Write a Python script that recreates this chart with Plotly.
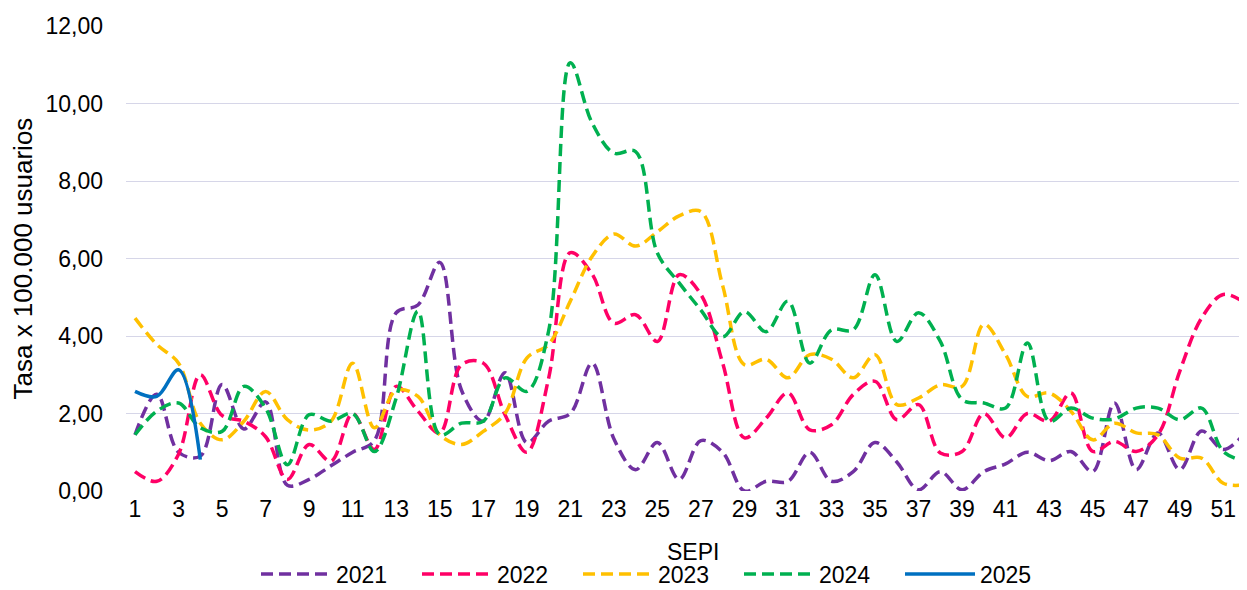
import plotly.graph_objects as go

weeks = list(range(1, 53))
weeks_2025 = [1, 2, 3, 4]

tasa_2021 = [1.45, 2.5, 1.0, 0.9, 2.75, 1.6, 2.3, 0.15, 0.3, 0.65, 1.0, 1.3, 4.6, 4.8, 5.9, 2.6, 1.8, 3.05, 1.25, 1.8,
             2.0, 3.3, 1.35, 0.55, 1.25, 0.3, 1.3, 1.0, 0.0, 0.25, 0.25, 1.0, 0.25, 0.5, 1.25, 0.75, 0.03, 0.5, 0.03, 0.5,
             0.7, 1.0, 0.78, 1.02, 0.5, 2.27, 0.55, 1.5, 0.55, 1.55, 1.07, 1.5]
tasa_2022 = [0.5, 0.25, 0.95, 3.0, 1.95, 1.8, 1.4, 0.3, 1.2, 0.77, 2.0, 1.07, 2.7, 2.06, 1.5, 3.26, 3.3, 1.97, 1.0, 2.9,
             6.15, 5.6, 4.33, 4.55, 3.86, 5.58, 5.07, 3.3, 1.37, 1.88, 2.53, 1.58, 1.71, 2.49, 2.83, 1.84, 2.23, 0.98, 1.02, 2.0,
             1.37, 2.0, 1.8, 2.53, 1.02, 1.28, 1.02, 1.45, 3.09, 4.46, 5.07, 4.85]
tasa_2023 = [4.46, 3.78, 3.3, 1.75, 1.32, 1.8, 2.57, 1.84, 1.57, 1.8, 3.3, 1.63, 2.6, 2.44, 1.45, 1.2, 1.54, 2.0, 3.43, 3.78,
             4.9, 6.05, 6.63, 6.32, 6.69, 7.1, 7.21, 5.3, 3.26, 3.4, 2.92, 3.52, 3.4, 2.92, 3.52, 2.23, 2.4, 2.74, 2.7, 4.3,
             3.52, 2.44, 2.53, 2.06, 1.32, 1.75, 1.5, 1.45, 0.85, 0.85, 0.2, 0.16]
tasa_2024 = [1.45, 2.06, 2.27, 1.63, 1.54, 2.7, 2.14, 0.68, 1.97, 1.8, 2.0, 1.02, 2.4, 4.64, 1.45, 1.75, 1.8, 2.92, 2.57, 4.12,
             11.05, 9.5, 8.72, 8.76, 6.14, 5.37, 4.67, 3.98, 4.63, 4.11, 4.9, 3.3, 4.16, 4.16, 5.58, 3.86, 4.6, 3.86, 2.36, 2.27,
             2.14, 3.82, 1.8, 2.14, 1.88, 1.86, 2.14, 2.14, 1.84, 2.14, 1.02, 0.77]
tasa_2025 = [2.57, 2.44, 3.13, 0.81]

x_tickvals = list(range(1, 53, 2))
y_tickvals = [0, 2, 4, 6, 8, 10, 12]

series = [
    ("2021", weeks, tasa_2021, "#7030A0", "12px,6px"),
    ("2022", weeks, tasa_2022, "#FF0066", "12px,6px"),
    ("2023", weeks, tasa_2023, "#FFC000", "12px,6px"),
    ("2024", weeks, tasa_2024, "#00B050", "12px,6px"),
    ("2025", weeks_2025, tasa_2025, "#0070C0", "solid"),
]

FONT = "Liberation Sans, Arial, sans-serif"

fig = go.Figure()
for name, xs, ys, color, dash in series:
    fig.add_trace(go.Scatter(
        x=xs, y=ys, name=name, mode="lines",
        line=dict(color=color, width=3.5, dash=dash, shape="spline", smoothing=1.0),
    ))

# page body has an 8px default margin: figure is sized to fill the rest
OFF = 8
W, H = 1247 - OFF, 590 - OFF
L, R, T, B = 126 - OFF, 0, 26 - OFF, 99
PW = W - L - R
fig.update_layout(
    width=W, height=H,
    margin=dict(l=L, r=R, t=T, b=B, autoexpand=False),
    paper_bgcolor="white", plot_bgcolor="white",
    separators=",.",
    font=dict(family=FONT, size=23, color="#000000"),
    showlegend=True,
    legend=dict(orientation="h", x=(248 - L) / PW, xanchor="left",
                yref="container", y=(H - (574 - OFF)) / H, yanchor="middle",
                font=dict(size=23), itemwidth=70, entrywidth=76, bgcolor="rgba(0,0,0,0)",
                borderwidth=0, tracegroupgap=0),
    xaxis=dict(range=[0.586, 52.09], tickvals=x_tickvals, ticks="", showgrid=False,
               zeroline=False, showline=False, ticklabelstandoff=2,
               tickfont=dict(size=23)),
    yaxis=dict(range=[0, 12], tickvals=y_tickvals, tickformat=".2f", ticks="",
               showgrid=True, gridcolor="#D6D6E8", gridwidth=1.3, zeroline=False,
               showline=False, ticklabelstandoff=22, tickfont=dict(size=23)),
    annotations=[
        dict(text="Tasa x 100.000 usuarios", textangle=-90, showarrow=False,
             xref="paper", yref="paper", x=(14 - L) / PW, y=0.5,
             xanchor="center", yanchor="middle", font=dict(size=26)),
        dict(text="SEPI", showarrow=False, xref="paper", yref="paper",
             x=0.5, y=0, xshift=6, yshift=-(552 - 491),
             xanchor="center", yanchor="middle", font=dict(size=23)),
    ],
)

fig.write_html("out.html")
